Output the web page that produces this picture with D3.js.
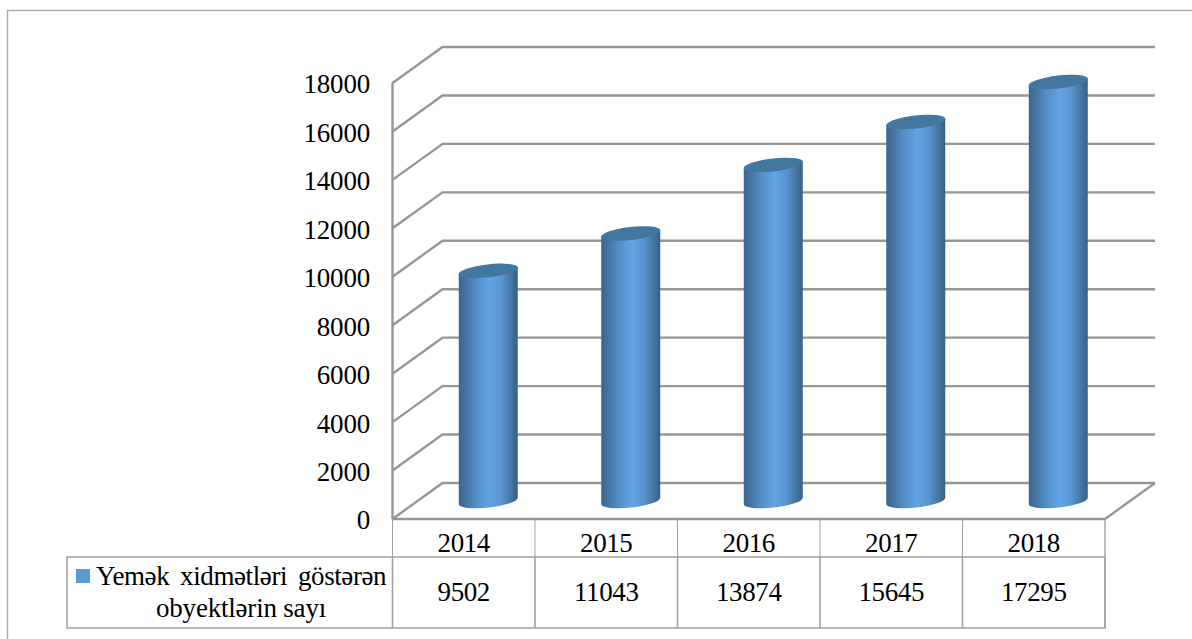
<!DOCTYPE html>
<html><head><meta charset="utf-8">
<script src="https://cdn.jsdelivr.net/npm/d3@7"></script>
<style>html,body{margin:0;padding:0;background:#fff;overflow:hidden}svg{display:block}
text{font-family:"Liberation Serif",serif;fill:#000}</style></head>
<body><svg id="c" width="1192" height="639"></svg>
<script>
const categories=["2014","2015","2016","2017","2018"];
const values=[9502,11043,13874,15645,17295];
const yTicks=[0,2000,4000,6000,8000,10000,12000,14000,16000,18000];
const legendLines=["Yemək xidmətləri göstərən","obyektlərin sayı"];

const svg=d3.select("#c");
const grey="#a0a0a0";
const x=d3.scaleBand().domain(categories).range([392.5,1105]);
const y=d3.scaleLinear().domain([0,18000]).range([519,83]);
const dx=50,dy=-36;

const defs=svg.append("defs");
const g=defs.append("linearGradient").attr("id","cyl").attr("x1",0).attr("x2",1).attr("y1",0).attr("y2",0);
[[0,"#3b6690"],[0.12,"#44759f"],[0.3,"#5590c8"],[0.52,"#60a4e2"],[0.72,"#5796d0"],[0.9,"#44739c"],[1,"#365f86"]]
 .forEach(s=>g.append("stop").attr("offset",s[0]).attr("stop-color",s[1]));
defs.append("filter").attr("id","soft").append("feGaussianBlur").attr("stdDeviation",0.5);

// frame
svg.append("path").attr("d","M7.5,639V10.5H1192").attr("fill","none").attr("stroke","#b0b0b0").attr("stroke-width",1.5);

// walls
const wall=svg.append("g").attr("fill","none").attr("stroke","#969696").attr("stroke-width",2.4).attr("filter","url(#soft)");
yTicks.forEach(t=>{
  wall.append("path").attr("d",`M${x.range()[0]},${y(t)}L${x.range()[0]+dx},${y(t)+dy}H${x.range()[1]+dx}`);
});
wall.append("path").attr("d",`M${x.range()[0]},${y(0)}V${y(18000)}`);
wall.append("path").attr("d",`M${x.range()[0]},${y(0)}H${x.range()[1]}L${x.range()[1]+dx},${y(0)+dy}`);

// axis labels
const axis=d3.axisLeft(y).tickValues(yTicks).tickSize(0).tickPadding(0).tickFormat(d3.format("d"));
const ax=svg.append("g").attr("transform","translate(370,1)").call(axis);
ax.select(".domain").remove();
ax.selectAll("text").attr("font-size",27).attr("letter-spacing",-0.2).attr("dy","0.33em").style("font-family",'"Liberation Serif",serif').attr("fill","#000");

// cylinders
const w=59,rx=w/2,ry=6.5,tilt=-6.5;
const cyl=svg.append("g");
categories.forEach((c,i)=>{
  const cx=x(c)+x.bandwidth()/2+dx/2-0.5;
  const base=y(0)+dy/2;
  const topY=y(values[i])+dy/2;
  const s=Math.sin(tilt*Math.PI/180)*rx;
  const gg=cyl.append("g");
  gg.append("path")
    .attr("d",`M${cx-rx},${topY-s}L${cx-rx},${base-s}A${rx},${ry} ${tilt} 0 0 ${cx+rx},${base+s}L${cx+rx},${topY+s}Z`)
    .attr("fill","url(#cyl)");
  gg.append("ellipse").attr("cx",cx).attr("cy",topY).attr("rx",rx+0.3).attr("ry",ry)
    .attr("transform",`rotate(${tilt} ${cx} ${topY})`).attr("fill","#44779f");
});

// data table
const tb=svg.append("g").attr("fill","none").attr("stroke",grey);
const rowTop=557,rowBot=628,left0=67;
tb.append("path").attr("d",`M${left0},${rowTop}H${x.range()[1]}V${rowBot}H${left0}Z`).attr("stroke-width",1.5);
categories.forEach(c=>{
  tb.append("path").attr("d",`M${x(c)},${y(0)}V${rowTop}`).attr("stroke-width",1);
  tb.append("path").attr("d",`M${x(c)},${rowTop}V${rowBot}`).attr("stroke-width",1.6);
});
tb.append("path").attr("d",`M${x.range()[1]},${y(0)}V${rowBot}`).attr("stroke-width",1.4);

const txt=svg.append("g").attr("font-size",27).attr("letter-spacing",-0.4).attr("text-anchor","middle");
categories.forEach((c,i)=>{
  const cx=x(c)+x.bandwidth()/2;
  txt.append("text").attr("x",cx).attr("y",552).text(c);
  txt.append("text").attr("x",cx).attr("y",601).text(values[i]);
});
svg.append("rect").attr("x",76).attr("y",569).attr("width",14).attr("height",14).attr("fill","#5b9bd5");
svg.append("text").attr("x",96).attr("y",585).attr("font-size",27).attr("letter-spacing",-0.4).attr("word-spacing",4.5).text(legendLines[0]);
svg.append("text").attr("x",241).attr("y",617).attr("font-size",27).attr("letter-spacing",-0.2).attr("text-anchor","middle").text(legendLines[1]);
</script></body></html>
